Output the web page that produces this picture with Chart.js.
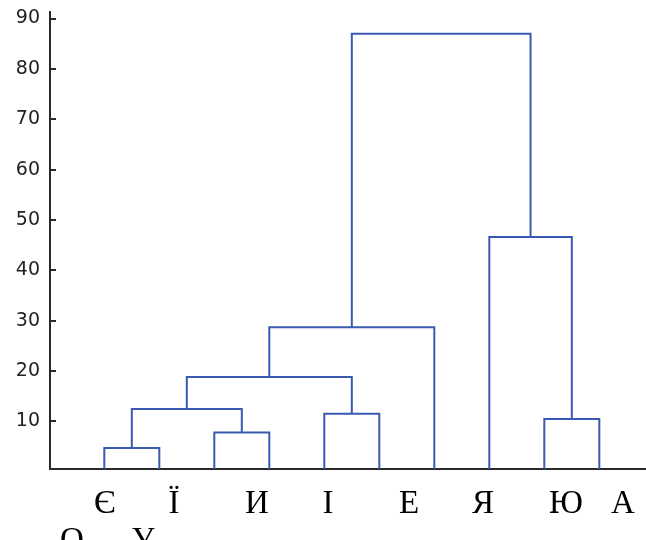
<!DOCTYPE html>
<html>
<head>
<meta charset="utf-8">
<script src="https://cdn.jsdelivr.net/npm/chart.js@4"></script>
<style>
  body { margin: 0; background: #fff; }
  canvas { display: block; }
</style>
</head>
<body>
<canvas id="dendro" width="646" height="540"></canvas>
<script>
// Листя дендрограми (в порядку зліва направо)
let leafLabels = ["Є", "Ї", "И", "І", "Е", "Я", "Ю", "А", "О", "У"];

// Об'єднання кластерів: вузли 1..10 - листя, 11.. - нові кластери
let mergeLeft   = [1, 3, 9, 5, 11, 15, 16, 8, 17];
let mergeRight  = [2, 4, 10, 6, 12, 14, 7, 13, 18];
let mergeHeight = [4.7, 7.8, 10.5, 11.5, 12.45, 18.8, 28.7, 46.6, 87.0];

// Поділки осі Y
let yTickValues = [10, 20, 30, 40, 50, 60, 70, 80, 90];

// Положення підписів (як на вихідному малюнку, рядки з переносом)
let labelPos = [
  [105, 513], [174, 513], [257, 513], [328, 513], [409, 513],
  [483, 513], [566, 513], [623, 513], [72, 550], [143, 550]
];

let lineColor = "#3a5ab2";
let axisColor = "#2a2a2a";

// координати вузлів
let nodeX = {}, nodeY = {};
leafLabels.forEach((l, i) => { nodeX[i + 1] = i + 1; nodeY[i + 1] = 0; });

let datasets = [];
mergeHeight.forEach((h, i) => {
  let id = leafLabels.length + i + 1;
  let a = mergeLeft[i], b = mergeRight[i];
  nodeX[id] = (nodeX[a] + nodeX[b]) / 2;
  nodeY[id] = h;
  datasets.push({
    data: [
      { x: nodeX[a], y: nodeY[a] },
      { x: nodeX[a], y: h },
      { x: nodeX[b], y: h },
      { x: nodeX[b], y: nodeY[b] }
    ],
    showLine: true,
    borderColor: lineColor,
    borderWidth: 2,
    pointRadius: 0,
    tension: 0
  });
});

// тики всередину + підписи листя
let dendroPlugin = {
  id: "dendroExtras",
  afterDraw(chart) {
    let c = chart.ctx, y = chart.scales.y, area = chart.chartArea;
    c.save();
    c.strokeStyle = axisColor;
    c.lineWidth = 2;
    yTickValues.forEach(v => {
      let py = Math.round(y.getPixelForValue(v));
      c.beginPath();
      c.moveTo(area.left, py);
      c.lineTo(area.left + 6, py);
      c.stroke();
    });
    c.fillStyle = "#000";
    c.font = "33px 'Liberation Serif', 'Times New Roman', serif";
    c.textAlign = "center";
    c.textBaseline = "alphabetic";
    leafLabels.forEach((l, i) => {
      c.fillText(l, labelPos[i][0], labelPos[i][1]);
    });
    c.restore();
  }
};

let ctx = document.getElementById("dendro").getContext("2d");
let chart = new Chart(ctx, {
  type: "scatter",
  data: { datasets: datasets },
  options: {
    responsive: false,
    animation: false,
    devicePixelRatio: 1,
    layout: { padding: { top: 12, right: 0, left: 0, bottom: 0 } },
    plugins: { legend: { display: false }, tooltip: { enabled: false } },
    scales: {
      x: {
        type: "linear",
        min: 0.0127,
        max: 10.849,
        grid: { display: false, drawTicks: false },
        ticks: { display: false },
        border: { display: true, color: axisColor, width: 2 },
        afterFit(scale) { scale.height = 71; scale.paddingLeft = 0; scale.paddingRight = 0; }
      },
      y: {
        type: "linear",
        min: 0.55,
        max: 91.3,
        grid: { display: false, drawTicks: false },
        border: { display: true, color: axisColor, width: 2 },
        ticks: {
          padding: 10,
          color: "#222",
          font: { family: "'DejaVu Sans', sans-serif", size: 19 }
        },
        afterBuildTicks(scale) {
          scale.ticks = yTickValues.map(v => ({ value: v }));
        },
        afterFit(scale) { scale.width = 50; scale.paddingTop = 0; scale.paddingBottom = 0; }
      }
    }
  },
  plugins: [dendroPlugin]
});
</script>
</body>
</html>
